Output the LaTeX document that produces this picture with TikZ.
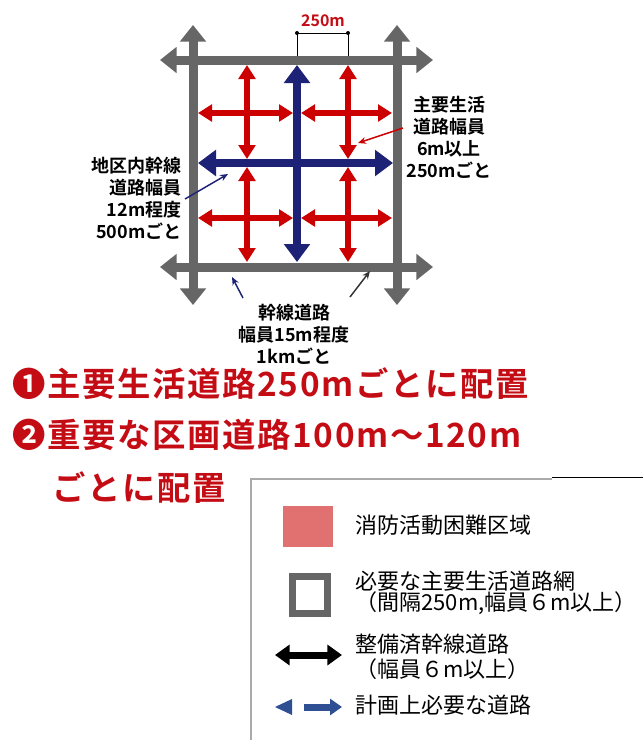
\documentclass[tikz,border=0pt]{standalone}
\usepackage{fontspec}
\setmainfont{Noto Sans CJK JP}
\newfontfamily\jpbold{Noto Sans CJK JP Bold}
\newfontfamily\jpboldwide[LetterSpace=5]{Noto Sans CJK JP Bold}
\usetikzlibrary{arrows.meta}

\definecolor{roadgrey}{RGB}{102,102,102}
\definecolor{roadred}{RGB}{204,0,0}
\definecolor{roadnavy}{RGB}{30,34,118}
\definecolor{titlered}{RGB}{196,12,20}
\definecolor{zonepink}{RGB}{225,112,112}
\definecolor{planblue}{RGB}{46,80,146}
\definecolor{framegrey}{RGB}{170,170,170}

\tikzset{every picture/.style={line width=0.75pt}}
\tikzset{
  mainroad/.style={draw=roadgrey, line width=6.75pt, {Triangle[width=19pt,length=12.5pt]}-{Triangle[width=19pt,length=12.5pt]}},
  trunkroad/.style={draw=roadnavy, line width=6pt, {Triangle[width=19pt,length=13.5pt]}-{Triangle[width=19pt,length=13.5pt]}},
  liferoad/.style={draw=roadred, line width=4.5pt, {Triangle[width=12.5pt,length=10.5pt]}-{Triangle[width=12.5pt,length=10.5pt]}},
  pointer/.style={line width=1.1pt, -{Stealth[length=6pt,width=5pt]}},
  smalllabel/.style={font=\jpbold\fontsize{13.5}{16.5}\selectfont, inner sep=0.75pt},
  bigred/.style={font=\jpboldwide\fontsize{25}{30}\selectfont, text=titlered, anchor=west, inner sep=0pt},
  legendtext/.style={font=\fontsize{16.5}{16}\selectfont, anchor=west, align=left, inner sep=0pt}
}

\begin{document}
\begin{tikzpicture}[x=0.75pt,y=0.75pt,yscale=-1,xscale=1]
\useasboundingbox (0,0) rectangle (643,740);

%Grey main roads
\foreach \y in {60,267}
  \draw [mainroad] (160,\y) -- (433,\y) ;
\foreach \x in {193,397}
  \draw [mainroad] (\x,25) -- (\x,305) ;

%Red roads every 250m
\foreach \x in {247,348} {
  \draw [liferoad] (\x,65) -- (\x,159) ;
  \draw [liferoad] (\x,167) -- (\x,262) ;
}
\foreach \y in {113,218} {
  \draw [liferoad] (198,\y) -- (293,\y) ;
  \draw [liferoad] (301,\y) -- (392,\y) ;
}

%Navy district roads
\draw [trunkroad] (297,65) -- (297,262) ;
\draw [trunkroad] (198,163) -- (393,163) ;

%Dimension 250m
\coordinate (dimL) at (297,33) ;
\coordinate (dimR) at (348,33) ;
\draw (dimL) -- (dimR) ;
\draw (dimL) -- (dimL |- 0,56) ;
\draw (dimR) -- (dimR |- 0,56) ;
\fill (dimL) circle (2) ;
\fill (dimR) circle (2) ;
\node [font=\jpbold\fontsize{12}{14}\selectfont, text=titlered, inner sep=0.75pt] (dimText) at (323,21) {250m};

% Text Node
\node [smalllabel, align=center] (lblLife) at (449,137) {主要生活\\道路幅員\\6m以上\\250mごと};
% Text Node
\node [smalllabel, align=right, anchor=east] (lblDistrict) at (183,198) {地区内幹線\\道路幅員\\12m程度\\500mごと};
% Text Node
\node [smalllabel, align=center] (lblTrunk) at (294,334) {幹線道路\\幅員15m程度\\1kmごと};

%Pointers
\coordinate (lifeTail) at (403,128) ;
\coordinate (lifeTip) at (358,143) ;
\coordinate (districtTail) at (185,199) ;
\coordinate (districtTip) at (228,174) ;
\coordinate (trunkTailL) at (243,298) ;
\coordinate (trunkTipL) at (232,277) ;
\coordinate (trunkTailR) at (350,297) ;
\coordinate (trunkTipR) at (370,271) ;
\draw [pointer, roadred] (lifeTail) -- (lifeTip) ;
\draw [pointer, roadnavy] (districtTail) -- (districtTip) ;
\draw [pointer, roadnavy] (trunkTailL) -- (trunkTipL) ;
\draw [pointer, black!80] (trunkTailR) -- (trunkTipR) ;

% Text Node
\node [bigred] (rule1) at (12,384) {❶主要生活道路250mごとに配置};
% Text Node
\node [bigred] (rule2) at (12,435) {❷重要な区画道路100m～120m};
% Text Node
\node [bigred] (rule3) at (52,488) {ごとに配置};

%Legend frame
\draw [framegrey, line width=1.5pt] (552,478.5) -- (251,478.5) -- (251,740) ;
\draw [black, line width=1.2pt] (552,477.5) -- (643,477.5) ;

%Legend symbols
\fill [zonepink] (283,506) rectangle (333,547) ;
\draw [roadgrey, line width=5.25pt] (292.5,576.5) rectangle (327.5,613.5) ;
\coordinate (keyBlackL) at (275,655) ;
\coordinate (keyBlackR) at (342,655) ;
\draw [black, line width=5.25pt, {Triangle[width=15pt,length=11pt]}-{Triangle[width=15pt,length=11pt]}] (keyBlackL) -- (keyBlackR) ;
\fill [planblue] (275,707) -- (292,699) -- (292,715) -- cycle ;
\coordinate (keyBlueL) at (304,707) ;
\coordinate (keyBlueR) at (342,707) ;
\draw [planblue, line width=5.25pt, -{Triangle[width=12pt,length=9pt]}] (keyBlueL) -- (keyBlueR) ;

% Text Node
\node [legendtext] (keyZone) at (355,525) {消防活動困難区域};
% Text Node
\node [legendtext] (keyNet) at (355,593) {必要な主要生活道路網\\（間隔250m,幅員６m以上）};
% Text Node
\node [legendtext] (keyTrunk) at (355,657) {整備済幹線道路\\[3pt]（幅員６m以上）};
% Text Node
\node [legendtext] (keyPlan) at (355,705) {計画上必要な道路};

\end{tikzpicture}
\end{document}
